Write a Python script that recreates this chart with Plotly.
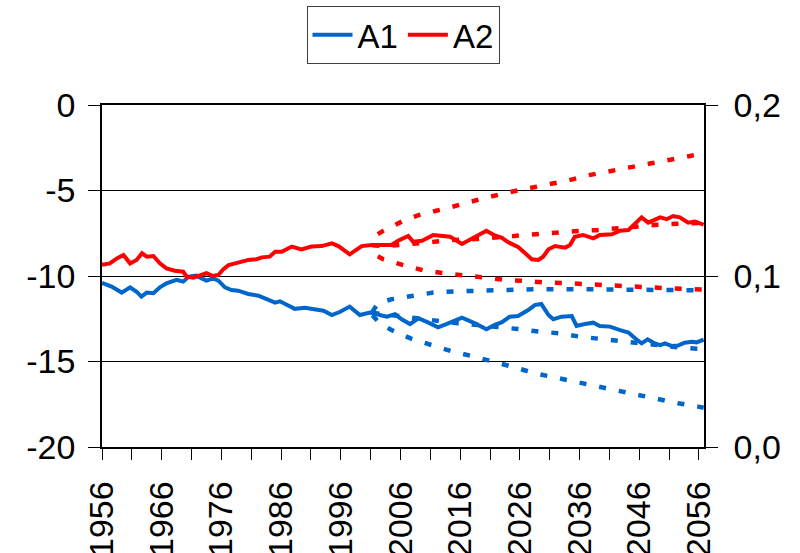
import plotly.graph_objects as go

# ---------------- data ----------------
# A1 (left axis) observed / central solid line
a1_years = [1956.0, 1957.6, 1959.3, 1960.7, 1961.8, 1962.6, 1963.5, 1964.6, 1965.7, 1966.8,
            1968.5, 1969.6, 1970.5, 1971.8, 1972.7, 1973.5, 1974.6, 1975.5, 1976.6, 1977.7,
            1978.8, 1980.5, 1982.2, 1983.3, 1985.0, 1985.8, 1986.9, 1988.3, 1990.0, 1991.7,
            1993.1, 1994.5, 1995.9, 1997.5, 1999.2, 2000.9, 2002.3, 2003.7, 2005.1, 2006.2,
            2007.6, 2009.0, 2010.7, 2012.3, 2014.0, 2016.3, 2018.5, 2020.4, 2021.8, 2023.0,
            2024.3, 2025.7, 2027.4, 2028.5, 2029.6, 2030.8, 2031.6, 2033.0, 2034.7, 2035.5,
            2036.9, 2038.3, 2039.4, 2041.1, 2042.8, 2044.2, 2045.3, 2046.4, 2047.4, 2048.6,
            2049.5, 2050.3, 2051.4, 2052.5, 2053.6, 2054.8, 2055.6, 2056.8]
a1_values = [-10.40, -10.62, -10.97, -10.66, -10.92, -11.21, -10.97, -11.01, -10.66, -10.43,
             -10.23, -10.33, -10.04, -9.98, -10.14, -10.27, -10.14, -10.27, -10.66, -10.82,
             -10.86, -11.05, -11.15, -11.30, -11.56, -11.48, -11.70, -11.92, -11.86, -11.95,
             -12.03, -12.28, -12.09, -11.79, -12.28, -12.14, -12.24, -12.38, -12.24, -12.53,
             -12.81, -12.47, -12.73, -13.00, -12.77, -12.44, -12.77, -13.12, -12.86, -12.70,
             -12.38, -12.34, -11.99, -11.70, -11.64, -12.28, -12.53, -12.38, -12.34, -12.92,
             -12.81, -12.73, -12.92, -12.96, -13.16, -13.31, -13.64, -13.94, -13.70, -13.94,
             -14.04, -13.94, -14.09, -14.07, -13.90, -13.84, -13.88, -13.72]

# A1 projections (dotted)
a1_mid_years = [2001.3, 2005.1, 2008.7, 2012.3, 2015.7, 2019.0, 2022.4, 2025.7, 2029.4, 2032.7,
                2036.1, 2039.4, 2043.1, 2046.4, 2049.8, 2053.1, 2056.8]
a1_mid_values = [-12.15, -12.32, -12.47, -12.61, -12.77, -12.87, -13.02, -13.10, -13.26, -13.35,
                 -13.55, -13.68, -13.80, -13.94, -14.04, -14.19, -14.28]
a1_up_years = [2001.3, 2002.2, 2004.5, 2008.1, 2011.5, 2015.1, 2018.5, 2021.8, 2025.2, 2028.8,
               2035.5, 2042.2, 2049.2, 2053.0, 2056.8]
a1_up_values = [-12.10, -11.60, -11.36, -11.15, -10.97, -10.90, -10.86, -10.82, -10.78, -10.77,
                -10.77, -10.78, -10.80, -10.82, -10.84]
a1_low_years = [2001.3, 2002.5, 2004.5, 2007.9, 2011.5, 2014.8, 2018.3, 2021.7, 2025.2, 2028.5,
                2031.9, 2035.5, 2038.9, 2042.2, 2045.6, 2049.2, 2052.5, 2055.9, 2056.8]
a1_low_values = [-12.30, -12.75, -13.16, -13.68, -14.07, -14.42, -14.71, -15.00, -15.35, -15.69,
                 -15.94, -16.17, -16.46, -16.70, -16.95, -17.19, -17.44, -17.64, -17.70]

# A2 (right axis) observed / central solid line
a2_years = [1956.0, 1957.3, 1958.5, 1959.6, 1960.7, 1961.8, 1962.7, 1963.5, 1964.6, 1965.7,
            1966.8, 1968.2, 1969.6, 1970.2, 1971.3, 1972.7, 1973.5, 1974.6, 1975.5, 1976.3,
            1977.2, 1978.8, 1980.5, 1981.9, 1982.8, 1984.1, 1985.0, 1986.1, 1987.8, 1989.4,
            1991.1, 1992.8, 1994.5, 1995.6, 1997.5, 1999.5, 2001.2, 2002.9, 2004.5, 2005.6,
            2007.3, 2008.1, 2009.6, 2011.5, 2012.6, 2014.3, 2016.3, 2017.9, 2020.4, 2021.8,
            2023.0, 2024.0, 2025.7, 2026.9, 2028.0, 2029.1, 2029.9, 2030.8, 2031.9, 2033.6,
            2034.4, 2035.2, 2036.6, 2038.3, 2039.4, 2041.4, 2042.8, 2044.2, 2045.3, 2046.4,
            2047.5, 2048.4, 2049.5, 2050.6, 2051.7, 2052.8, 2054.2, 2055.3, 2056.8]
a2_values = [0.1066, 0.1074, 0.1103, 0.1123, 0.1074, 0.1094, 0.1133, 0.1113, 0.1117, 0.1074,
             0.1045, 0.1031, 0.1025, 0.0996, 0.0990, 0.1010, 0.1016, 0.1000, 0.1006, 0.1039,
             0.1064, 0.1078, 0.1094, 0.1098, 0.1109, 0.1113, 0.1142, 0.1142, 0.1172, 0.1155,
             0.1172, 0.1175, 0.1191, 0.1175, 0.1127, 0.1175, 0.1181, 0.1181, 0.1181, 0.1206,
             0.1234, 0.1201, 0.1206, 0.1240, 0.1234, 0.1230, 0.1187, 0.1215, 0.1265, 0.1237,
             0.1223, 0.1198, 0.1170, 0.1133, 0.1098, 0.1094, 0.1113, 0.1156, 0.1175, 0.1166,
             0.1181, 0.1230, 0.1240, 0.1220, 0.1240, 0.1244, 0.1265, 0.1269, 0.1308, 0.1343,
             0.1312, 0.1327, 0.1343, 0.1332, 0.1351, 0.1343, 0.1312, 0.1318, 0.1300]

# A2 projections (dotted)
a2_mid_years = [2001.3, 2003.7, 2007.1, 2011.0, 2014.4, 2017.8, 2021.5, 2024.9, 2028.3, 2031.7,
                2035.2, 2038.7, 2042.1, 2045.5, 2048.9, 2052.3, 2055.7, 2056.8]
a2_mid_values = [0.1180, 0.1175, 0.1185, 0.1200, 0.1210, 0.1214, 0.1224, 0.1232, 0.1247, 0.1253,
                 0.1262, 0.1268, 0.1280, 0.1292, 0.1299, 0.1305, 0.1311, 0.1312]
a2_up_years = [2002.2, 2003.1, 2006.5, 2009.6, 2013.3, 2016.7, 2020.1, 2023.8, 2027.1, 2030.5,
               2034.2, 2037.6, 2041.0, 2044.4, 2047.8, 2051.4, 2054.5, 2056.8]
a2_up_values = [0.1245, 0.1264, 0.1323, 0.1363, 0.1392, 0.1426, 0.1456, 0.1487, 0.1510, 0.1536,
                0.1560, 0.1590, 0.1610, 0.1635, 0.1658, 0.1680, 0.1702, 0.1720]
a2_low_years = [2002.2, 2003.1, 2006.8, 2010.1, 2013.5, 2016.8, 2020.4, 2023.5, 2027.1, 2030.5,
                2034.1, 2037.4, 2040.8, 2044.1, 2047.5, 2051.2, 2054.6, 2056.8]
a2_low_values = [0.1115, 0.1098, 0.1060, 0.1031, 0.1016, 0.1002, 0.0990, 0.0977, 0.0971, 0.0961,
                 0.0958, 0.0951, 0.0943, 0.0938, 0.0934, 0.0928, 0.0925, 0.0920]

# axis ticks
year_ticks = [1956, 1966, 1976, 1986, 1996, 2006, 2016, 2026, 2036, 2046, 2056]
left_tickvals = [-20, -15, -10, -5, 0]
left_ticktext = ["-20", "-15", "-10", "-5", "0"]
right_tickvals = [0.0, 0.1, 0.2]
right_ticktext = ["0,0", "0,1", "0,2"]

BLUE = "#0066CC"
RED = "#FF0000"
FONT = "Liberation Sans, Arial, sans-serif"
DOT = "7px,13px"

fig = go.Figure()

for yrs, vals in [(a1_mid_years, a1_mid_values), (a1_up_years, a1_up_values),
                  (a1_low_years, a1_low_values)]:
    fig.add_trace(go.Scatter(x=yrs, y=vals, mode="lines", showlegend=False,
                             line=dict(color=BLUE, width=4.5, dash=DOT), hoverinfo="skip"))
fig.add_trace(go.Scatter(x=a1_years, y=a1_values, mode="lines", name="A1",
                         line=dict(color=BLUE, width=4)))

for yrs, vals in [(a2_mid_years, a2_mid_values), (a2_up_years, a2_up_values),
                  (a2_low_years, a2_low_values)]:
    fig.add_trace(go.Scatter(x=yrs, y=vals, mode="lines", showlegend=False, yaxis="y2",
                             line=dict(color=RED, width=4.5, dash=DOT), hoverinfo="skip"))
fig.add_trace(go.Scatter(x=a2_years, y=a2_values, mode="lines", name="A2", yaxis="y2",
                         line=dict(color=RED, width=4)))

fig.update_layout(
    width=800, height=553,
    margin=dict(l=102, r=96, t=105, b=106, autoexpand=False),
    paper_bgcolor="white", plot_bgcolor="white",
    font=dict(family=FONT, size=34, color="black"),
    showlegend=True,
    legend=dict(orientation="h", x=0.5, xanchor="center", y=1.29, yanchor="top",
                bordercolor="#404040", borderwidth=1, font=dict(size=33),
                itemwidth=40, tracegroupgap=0),
    xaxis=dict(range=[1956, 2056.85], tickmode="array", tickvals=year_ticks,
               tickangle=-90, ticks="outside", ticklen=11, tickcolor="black", tickwidth=1,
               showline=True, linecolor="black", linewidth=1.5, mirror=True,
               showgrid=False, zeroline=False, ticklabelstandoff=8, automargin=False,
               minor=dict(dtick=5, tick0=1956, ticks="outside", ticklen=11,
                          tickcolor="black", tickwidth=1, showgrid=False),
               tickfont=dict(size=34)),
    yaxis=dict(range=[-20, 0], tickmode="array", tickvals=left_tickvals, ticktext=left_ticktext,
               ticks="outside", ticklen=12, tickcolor="black", tickwidth=1,
               showline=True, linecolor="black", linewidth=1.5,
               showgrid=True, gridcolor="black", gridwidth=1.2, zeroline=False,
               ticklabelstandoff=6, automargin=False),
    yaxis2=dict(range=[0, 0.2], overlaying="y", side="right", tickmode="array",
                tickvals=right_tickvals, ticktext=right_ticktext,
                ticks="outside", ticklen=12, tickcolor="black", tickwidth=1,
                showline=True, linecolor="black", linewidth=1.5,
                showgrid=False, zeroline=False, ticklabelstandoff=9, automargin=False),
)

fig.write_html("out.html")
